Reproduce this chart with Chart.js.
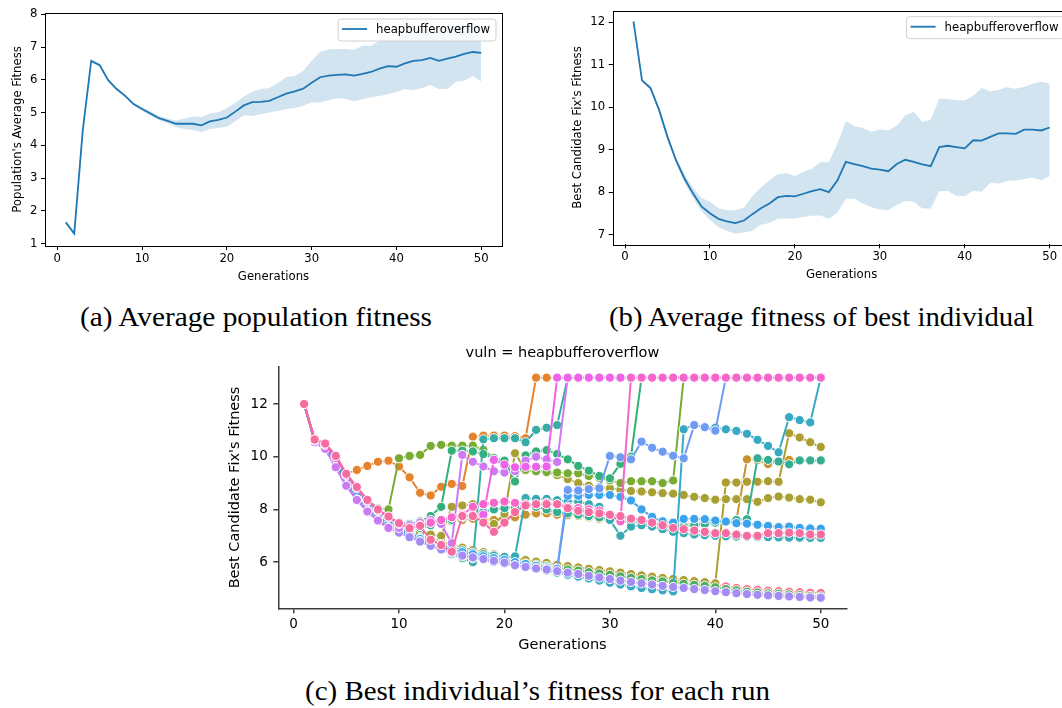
<!DOCTYPE html>
<html>
<head>
<meta charset="utf-8">
<script src="https://cdn.jsdelivr.net/npm/chart.js@4.4.1/dist/chart.umd.min.js"></script>
<style>
  html, body { margin: 0; padding: 0; background: #fff; overflow: hidden; width: 1062px; height: 708px; }
  canvas { position: absolute; }
  .cap { position: absolute; font-family: "Liberation Serif", "Times New Roman", serif; font-size: 28px;
         line-height: 30px; color: #000; white-space: nowrap; transform-origin: left center; }
</style>
</head>
<body>
<canvas id="popChart" width="510" height="290" style="left:0px;top:0px"></canvas>
<canvas id="bestChart" width="520" height="290" style="left:560px;top:0px"></canvas>
<canvas id="runChart" width="640" height="330" style="left:220px;top:340px"></canvas>
<div class="cap" data-w="352" style="left:80px;top:302px">(a) Average population fitness</div>
<div class="cap" data-w="425" style="left:609px;top:302px">(b) Average fitness of best individual</div>
<div class="cap" data-w="465" style="left:305px;top:676px">(c) Best individual’s fitness for each run</div>
<script>
// ---- shared axis values ----
const generations = [1,2,3,4,5,6,7,8,9,10,11,12,13,14,15,16,17,18,19,20,21,22,23,24,25,
  26,27,28,29,30,31,32,33,34,35,36,37,38,39,40,41,42,43,44,45,46,47,48,49,50];
const genTicks = [0, 10, 20, 30, 40, 50];
const popTicks = [1, 2, 3, 4, 5, 6, 7, 8];
const bestTicks = [7, 8, 9, 10, 11, 12];
const runTicks = [6, 8, 10, 12];
const vulnName = 'heapbufferoverflow';

// ---- population's average fitness: mean and confidence band ----
const popMean = [1.65,1.31,4.45,6.58,6.45,5.99,5.72,5.51,5.26,5.11,
  4.97,4.83,4.75,4.66,4.66,4.66,4.61,4.73,4.78,4.85,
  5.03,5.22,5.32,5.33,5.36,5.47,5.58,5.65,5.73,5.91,
  6.08,6.13,6.15,6.17,6.13,6.18,6.24,6.34,6.42,6.40,
  6.50,6.58,6.60,6.67,6.58,6.65,6.71,6.79,6.85,6.82];
const popUpper = [1.70,1.36,4.60,6.63,6.50,6.03,5.76,5.55,5.30,5.16,
  5.04,4.90,4.82,4.76,4.82,4.88,4.87,4.97,5.01,5.14,
  5.30,5.49,5.64,5.72,5.75,5.90,6.09,6.12,6.27,6.58,
  6.85,6.93,6.94,6.94,6.91,7.04,7.04,7.19,7.23,7.24,
  7.39,7.49,7.54,7.56,7.50,7.60,7.65,7.70,7.72,7.30];
const popLower = [1.60,1.26,4.30,6.53,6.40,5.95,5.68,5.47,5.22,5.06,
  4.92,4.77,4.68,4.56,4.50,4.47,4.41,4.50,4.53,4.57,
  4.74,4.92,4.90,4.95,5.00,5.05,5.11,5.14,5.21,5.31,
  5.31,5.38,5.44,5.42,5.35,5.41,5.47,5.51,5.56,5.63,
  5.72,5.68,5.75,5.84,5.72,5.72,5.94,5.97,6.12,5.95];

// ---- best candidate's fitness: mean and confidence band ----
const bestMean = [12.02,10.63,10.45,9.94,9.30,8.75,8.32,7.97,7.66,7.50,
  7.37,7.31,7.27,7.33,7.48,7.62,7.73,7.88,7.91,7.90,
  7.96,8.02,8.07,8.00,8.27,8.71,8.66,8.61,8.55,8.53,
  8.49,8.66,8.76,8.71,8.65,8.61,9.06,9.09,9.06,9.03,
  9.22,9.21,9.30,9.38,9.38,9.37,9.47,9.47,9.45,9.52];
const bestUpper = [12.02,10.66,10.50,10.00,9.38,8.82,8.42,8.10,7.86,7.78,
  7.62,7.57,7.57,7.63,7.91,8.11,8.28,8.42,8.44,8.38,
  8.48,8.55,8.71,8.70,9.14,9.67,9.55,9.51,9.42,9.47,
  9.45,9.57,9.80,9.89,9.65,9.71,10.20,10.19,10.16,10.16,
  10.27,10.45,10.37,10.41,10.47,10.43,10.48,10.55,10.60,10.55];
const bestLower = [12.02,10.60,10.40,9.88,9.22,8.68,8.22,7.86,7.55,7.34,
  7.17,7.09,7.02,7.05,7.09,7.23,7.27,7.37,7.38,7.38,
  7.41,7.44,7.45,7.37,7.52,7.84,7.84,7.73,7.64,7.59,
  7.57,7.70,7.79,7.77,7.61,7.61,8.02,8.03,7.91,7.91,
  8.03,8.01,8.22,8.20,8.26,8.27,8.31,8.34,8.28,8.37];

// ---- best individual's fitness, one array per run ----
const run01 = [12,10.62,10.45,9.95,9.25,8.75,8.25,7.9,7.62,7.38,
  7.15,6.95,6.85,6.72,6.62,6.5,6.42,6.35,6.28,6.2,
  6.12,6.05,6.0,5.95,5.88,5.82,5.78,5.72,5.68,5.62,
  5.55,5.5,5.45,5.4,5.35,5.3,5.25,5.22,5.18,5.15,
  5.08,5.02,4.98,4.95,4.92,4.9,4.88,4.86,4.84,4.83];
const run02 = [12,10.65,10.5,10.0,9.35,9.5,9.65,9.81,9.85,9.63,
  9.22,8.63,8.53,8.86,8.97,8.89,10.76,10.8,10.8,10.8,
  10.78,10.7,13,13,13,13,13,13,13,13,
  13,13,13,13,13,13,13,13,13,13,
  13,13,13,13,13,13,13,13,13,13];
const run03 = [12,10.6,10.4,9.9,9.2,8.7,8.2,7.85,7.6,7.42,
  7.3,7.35,7.45,7.5,7.55,7.6,7.65,7.62,7.6,7.62,
  7.7,7.8,7.85,7.85,7.8,7.78,7.75,7.7,7.65,7.6,
  7.55,7.5,7.45,7.42,7.4,7.38,7.4,7.45,7.5,7.55,
  7.58,7.6,9.9,9.88,9.72,9.8,9.88,9.85,9.84,9.84];
const run04 = [12,10.63,10.48,9.98,9.3,8.8,8.3,7.95,7.68,7.42,
  7.2,7.0,6.9,6.78,6.66,6.55,6.46,6.38,6.3,6.22,
  6.15,6.08,6.02,5.97,5.9,5.85,5.8,5.75,5.7,5.65,
  5.6,5.55,5.5,5.45,5.4,5.36,5.32,5.28,5.24,5.2,
  9.02,9.02,9.05,9.05,9.07,9.05,10.89,10.73,10.55,10.37];
const run05 = [12,10.6,10.42,9.9,9.2,8.7,8.2,7.85,7.55,7.3,
  7.15,7.1,7.05,7.0,8.1,8.15,8.2,7.5,7.45,7.83,
  10.13,9.5,9.45,9.4,9.3,9.15,9.0,8.9,8.85,8.8,
  8.75,8.7,8.68,8.65,8.62,8.6,8.55,8.48,8.43,8.37,
  8.39,8.39,8.39,8.29,8.43,8.49,8.45,8.39,8.37,8.27];
const run06 = [12,10.65,10.5,10.0,9.3,8.8,8.35,8.05,8.0,9.94,
  10.03,10.07,10.41,10.45,10.42,10.42,10.42,10.26,9.95,9.7,
  9.55,9.5,9.45,9.42,9.4,9.37,9.37,9.27,9.2,9.1,
  9.0,9.07,9.07,9.07,9.0,9.1,13,13,13,13,
  13,13,13,13,13,13,13,13,13,13];
const run07 = [12,10.6,10.4,9.85,9.15,8.6,8.12,7.75,7.5,7.25,
  7.05,6.88,6.75,6.62,6.52,6.4,6.32,6.25,6.18,6.1,
  6.02,5.95,5.9,5.85,5.78,5.72,5.68,5.62,5.57,5.52,
  5.46,5.41,5.36,5.31,5.27,5.22,5.18,5.14,5.1,5.05,
  4.98,4.93,4.88,4.85,4.82,4.8,4.78,4.75,4.72,4.7];
const run08 = [12,10.62,10.45,9.95,9.25,8.75,8.3,7.95,7.7,7.5,
  7.45,7.55,7.75,8.1,10.23,10.23,10.2,10.1,9.95,9.85,
  9.06,10.05,10.2,10.25,10.1,9.9,9.65,9.47,9.27,9.18,
  9.73,10.0,13,13,13,13,13,13,13,13,
  13,13,13,13,13,13,13,13,13,13];
const run09 = [12,10.6,10.42,9.9,9.2,8.65,8.2,7.85,7.58,7.35,
  7.25,7.3,7.4,7.5,7.6,7.7,7.8,7.9,8.0,8.05,
  8.1,8.15,8.1,8.0,7.9,7.85,7.8,7.75,7.7,7.65,
  7.6,7.55,7.5,7.45,7.4,7.35,7.35,7.4,7.45,7.5,
  7.55,7.6,7.63,9.94,9.88,9.82,9.71,9.86,9.86,9.86];
const run10 = [12,10.6,10.4,9.88,9.18,8.65,8.15,7.78,7.5,7.28,
  7.08,6.9,6.75,6.5,6.3,6.15,6.0,10.66,10.7,10.7,
  10.7,10.55,11.02,11.1,11.2,13,13,13,13,13,
  13,13,13,13,13,13,13,13,13,13,
  13,13,13,13,13,13,13,13,13,13];
const run11 = [12,10.62,10.45,9.92,9.2,8.7,8.2,7.85,7.58,7.35,
  7.12,6.92,6.8,6.68,6.56,6.45,6.36,6.3,6.25,6.2,
  6.22,8.43,8.4,8.4,8.35,8.3,8.3,8.2,8.1,7.6,
  7.0,7.35,7.4,7.35,7.25,7.15,7.1,7.05,7.02,7.0,
  6.98,6.97,6.96,6.95,6.95,6.94,6.93,6.93,6.92,6.92];
const run12 = [12,10.58,10.35,9.7,9.0,8.45,8.0,7.65,7.35,7.2,
  7.0,6.85,6.68,6.55,6.42,6.3,6.22,6.14,6.08,6.0,
  5.9,5.82,5.75,5.68,5.6,5.52,5.45,5.38,5.3,5.22,
  5.15,5.08,5.02,4.97,4.93,4.89,11.04,11.2,11.12,11.1,
  11.04,10.98,10.87,10.64,10.41,10.17,11.5,11.39,11.3,13];
const run13 = [12,10.6,10.4,9.85,9.1,8.55,8.1,7.72,7.45,7.25,
  7.05,6.88,6.74,6.6,6.48,6.38,6.3,6.22,6.15,6.08,
  6.0,5.93,5.86,5.8,5.73,8.52,8.52,8.55,8.55,8.55,
  8.48,8.34,8.0,7.72,7.55,7.5,7.64,7.64,7.63,7.58,
  7.54,7.48,7.46,7.42,7.38,7.33,7.35,7.3,7.28,7.27];
const run14 = [12,10.56,10.3,9.62,8.92,8.38,7.95,7.6,7.32,7.18,
  6.98,6.8,6.65,6.5,6.38,6.22,6.15,6.1,6.0,5.95,
  5.88,5.82,5.78,5.76,5.75,8.74,8.72,8.77,8.8,10.03,
  9.98,9.9,10.57,10.34,10.19,10.04,9.94,11.2,11.12,10.99,
  13,13,13,13,13,13,13,13,13,13];
const run15 = [12,10.55,10.3,9.6,8.9,8.36,7.92,7.58,7.29,7.12,
  6.95,6.78,6.62,6.48,6.36,6.25,6.18,6.12,6.05,5.98,
  5.88,5.82,5.76,5.72,5.66,5.6,5.55,5.48,5.42,5.36,
  5.3,5.25,5.2,5.15,5.1,5.06,5.02,4.98,4.94,4.9,
  4.86,4.82,4.79,4.76,4.74,4.72,4.7,4.68,4.66,4.65];
const run16 = [12,10.55,10.3,9.6,8.9,8.36,7.92,7.58,7.3,7.3,
  7.4,7.5,7.6,7.45,6.72,10.07,9.81,9.63,9.45,9.4,
  9.45,9.85,10.0,9.9,9.8,13,13,13,13,13,
  13,13,13,13,13,13,13,13,13,13,
  13,13,13,13,13,13,13,13,13,13];
const run17 = [12,10.62,10.45,9.95,9.3,8.8,8.3,7.95,7.7,7.45,
  7.3,7.4,7.5,7.6,7.7,7.75,7.8,7.8,9.88,9.7,
  9.6,9.62,9.62,9.63,13,13,13,13,13,13,
  13,13,13,13,13,13,13,13,13,13,
  13,13,13,13,13,13,13,13,13,13];
const run18 = [12,10.65,10.5,10.03,9.35,8.85,8.36,8.0,7.73,7.48,
  7.3,7.38,7.5,7.6,7.7,7.8,8.1,8.2,8.25,8.3,
  8.25,8.2,8.2,8.25,8.2,8.1,8.05,8.0,7.95,7.8,
  7.55,13,13,13,13,13,13,13,13,13,
  13,13,13,13,13,13,13,13,13,13];
const run19 = [12,10.65,10.5,10.03,9.35,8.85,8.36,8.0,7.73,7.48,
  7.29,7.38,6.85,6.65,6.4,7.75,7.75,7.5,7.15,7.5,
  7.9,8.15,8.2,8.2,8.2,8.05,7.95,7.9,7.85,7.8,
  7.75,7.65,7.6,7.5,7.4,7.3,7.25,7.2,7.15,7.1,
  7.1,7.05,7.0,7.0,7.1,7.1,7.12,7.1,7.05,7.05];

const runs = [run01, run02, run03, run04, run05, run06, run07, run08, run09, run10,
  run11, run12, run13, run14, run15, run16, run17, run18, run19];
const runColors = ['#f77189', '#e5832d', '#c8922f', '#ae9d31', '#a8a032', '#77ab31', '#4cae5c',
  '#33b07a', '#34ae90', '#36ada4', '#37abb4', '#38a9c5', '#3ba3ec', '#6e9bf4', '#a48cf4',
  '#cc7af4', '#ec63ea', '#f565cc', '#f66ba0'];

// ---- helpers ----
const FONT = "'DejaVu Sans', 'Liberation Sans', sans-serif";
Chart.defaults.font.family = FONT;
Chart.defaults.color = '#000';

function points(values) {
  return values.map((v, i) => ({ x: generations[i], y: v }));
}
function fixedTicks(values) {
  return (scale) => { scale.ticks = values.map(v => ({ value: v })); };
}

// full rectangular frame around the plotting area
const framePlugin = {
  id: 'frame',
  afterDraw(chart) {
    const { ctx, chartArea: a } = chart;
    ctx.save();
    ctx.strokeStyle = '#000';
    ctx.lineWidth = 1;
    ctx.strokeRect(Math.round(a.left) + 0.5, Math.round(a.top) + 0.5,
      Math.round(a.right - a.left), Math.round(a.bottom - a.top));
    ctx.restore();
  }
};

// framed legend in the upper-right corner
function legendPlugin(text, color) {
  return {
    id: 'boxLegend',
    afterDraw(chart) {
      const { ctx, chartArea: a } = chart;
      ctx.save();
      ctx.font = '11.7px ' + FONT;
      const tw = ctx.measureText(text).width;
      const w = 38 + tw + 6, h = 22;
      const x = a.right - 6 - w, y = a.top + 6;
      const r = 3;
      ctx.beginPath();
      ctx.moveTo(x + r, y);
      ctx.lineTo(x + w - r, y); ctx.quadraticCurveTo(x + w, y, x + w, y + r);
      ctx.lineTo(x + w, y + h - r); ctx.quadraticCurveTo(x + w, y + h, x + w - r, y + h);
      ctx.lineTo(x + r, y + h); ctx.quadraticCurveTo(x, y + h, x, y + h - r);
      ctx.lineTo(x, y + r); ctx.quadraticCurveTo(x, y, x + r, y);
      ctx.closePath();
      ctx.fillStyle = 'rgba(255,255,255,0.8)';
      ctx.fill();
      ctx.strokeStyle = '#d0d0d0';
      ctx.lineWidth = 1;
      ctx.stroke();
      ctx.beginPath();
      ctx.moveTo(x + 4, y + h / 2 - 1);
      ctx.lineTo(x + 29, y + h / 2 - 1);
      ctx.strokeStyle = color;
      ctx.lineWidth = 1.8;
      ctx.stroke();
      ctx.fillStyle = '#000';
      ctx.textBaseline = 'middle';
      ctx.fillText(text, x + 38, y + h / 2);
      ctx.restore();
    }
  };
}

// mean line with shaded band
function bandChart(id, mean, upper, lower, yTicks, yMin, yMax, yLabel, g) {
  const blue = '#1f77b4';
  return new Chart(document.getElementById(id), {
    type: 'line',
    data: {
      datasets: [
        { label: 'upper', data: points(upper), borderColor: 'rgba(0,0,0,0)', borderWidth: 0,
          pointRadius: 0, fill: '+1', backgroundColor: 'rgba(31,119,180,0.2)', order: 2 },
        { label: 'lower', data: points(lower), borderColor: 'rgba(0,0,0,0)', borderWidth: 0,
          pointRadius: 0, fill: false, order: 2 },
        { label: vulnName, data: points(mean), borderColor: blue, borderWidth: 1.8,
          pointRadius: 0, fill: false, order: 1 }
      ]
    },
    options: {
      responsive: false, animation: false, devicePixelRatio: 1, events: [],
      layout: { padding: { left: 0, top: g.top, right: g.right, bottom: 0 } },
      plugins: { legend: { display: false }, tooltip: { enabled: false } },
      scales: {
        x: {
          type: 'linear', min: -1.45, max: 52.45,
          afterBuildTicks: fixedTicks(genTicks),
          afterFit: (s) => { s.height = g.xh; },
          border: { display: false },
          grid: { drawOnChartArea: false, drawTicks: true, tickLength: 4, color: '#000', lineWidth: 1 },
          ticks: { padding: 1.5, autoSkip: false, maxRotation: 0, font: { size: 11.7 }, color: '#000' },
          title: { display: true, text: 'Generations', color: '#000', font: { size: 11.7 },
                   padding: { top: 0, bottom: g.xtp } }
        },
        y: {
          type: 'linear', min: yMin, max: yMax,
          afterBuildTicks: fixedTicks(yTicks),
          afterFit: (s) => { s.width = g.yw; },
          border: { display: false },
          grid: { drawOnChartArea: false, drawTicks: true, tickLength: 4, color: '#000', lineWidth: 1 },
          ticks: { padding: 3.5, autoSkip: false, font: { size: 11.7 }, color: '#000' },
          title: { display: true, text: yLabel, color: '#000', font: { size: 11.7 },
                   padding: { top: g.ytp, bottom: 0 } }
        }
      }
    },
    plugins: [framePlugin, legendPlugin(vulnName, blue)]
  });
}

bandChart('popChart', popMean, popUpper, popLower, popTicks, 0.93, 8.04,
  "Population's Average Fitness", { top: 13, right: 8, xh: 44, yw: 45, xtp: 6.3, ytp: 11 });
bandChart('bestChart', bestMean, bestUpper, bestLower, bestTicks, 6.77, 12.27,
  "Best Candidate Fix's Fitness", { top: 10.7, right: 9.5, xh: 45.7, yw: 52.7, xtp: 8.3, ytp: 10.7 });

// ---- one line with markers per run ----
const spine = '#3d3d3d';
const facetTitle = {
  id: 'facetTitle',
  afterDraw(chart) {
    const { ctx, chartArea: a } = chart;
    ctx.save();
    ctx.font = '14.5px ' + FONT;
    ctx.fillStyle = '#000';
    ctx.textAlign = 'center';
    ctx.textBaseline = 'middle';
    ctx.fillText('vuln = ' + vulnName, (a.left + a.right) / 2, a.top - 13.7);
    ctx.restore();
  }
};

new Chart(document.getElementById('runChart'), {
  type: 'line',
  data: {
    datasets: runs.map((vals, i) => ({
      label: 'run ' + (i + 1),
      data: points(vals),
      borderColor: runColors[i],
      backgroundColor: runColors[i],
      borderWidth: 2,
      pointRadius: 4.6,
      pointBorderWidth: 1,
      pointBorderColor: '#ffffff',
      pointBackgroundColor: runColors[i],
      fill: false,
      tension: 0,
      order: runs.length - i
    }))
  },
  options: {
    responsive: false, animation: false, devicePixelRatio: 1, events: [],
    layout: { padding: { left: 0, top: 26.7, right: 13.4, bottom: 0 } },
    plugins: { legend: { display: false }, tooltip: { enabled: false } },
    scales: {
      x: {
        type: 'linear', min: -1.45, max: 52.45,
        afterBuildTicks: fixedTicks(genTicks),
        afterFit: (s) => { s.height = 61.7; },
        border: { display: true, color: spine, width: 1.5 },
        grid: { drawOnChartArea: false, drawTicks: true, tickLength: 5, color: spine, lineWidth: 1.5 },
        ticks: { padding: 2.8, autoSkip: false, maxRotation: 0, font: { size: 13.5 }, color: '#000' },
        title: { display: true, text: 'Generations', color: '#000', font: { size: 14.5 },
                 padding: { top: 0, bottom: 16.3 } }
      },
      y: {
        type: 'linear', min: 4.25, max: 13.415,
        afterBuildTicks: fixedTicks(runTicks),
        afterFit: (s) => { s.width = 58.3; },
        border: { display: true, color: spine, width: 1.5 },
        grid: { drawOnChartArea: false, drawTicks: true, tickLength: 5, color: spine, lineWidth: 1.5 },
        ticks: { padding: 5.5, autoSkip: false, font: { size: 13.5 }, color: '#000' },
        title: { display: true, text: "Best Candidate Fix's Fitness", color: '#000', font: { size: 14.5 },
                 padding: { top: 6.3, bottom: 0 } }
      }
    }
  },
  plugins: [facetTitle]
});

// stretch each caption to its line width
document.querySelectorAll('.cap').forEach(el => {
  const target = parseFloat(el.dataset.w);
  const w = el.getBoundingClientRect().width;
  if (w > 0) el.style.transform = 'scaleX(' + (target / w).toFixed(4) + ')';
});
</script>
</body>
</html>
